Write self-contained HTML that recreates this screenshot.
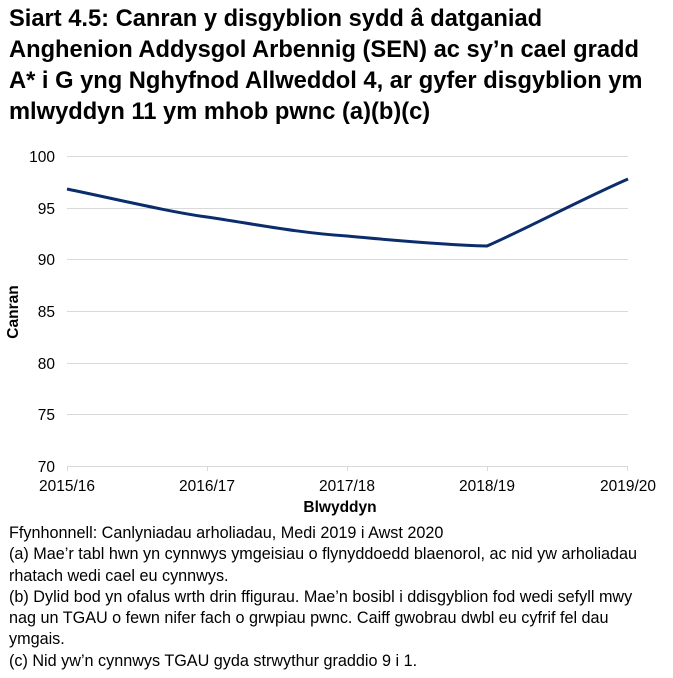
<!DOCTYPE html>
<html><head><meta charset="utf-8"><style>
body{margin:0;background:#fff;width:673px;height:678px;overflow:hidden;font-family:"Liberation Sans",Arial,sans-serif;}
.t{position:absolute;left:9px;top:4px;font-weight:bold;font-size:23.7px;line-height:31px;color:#000;white-space:nowrap;}
.f{position:absolute;left:9px;top:523px;font-size:16.2px;line-height:21.3px;color:#000;white-space:nowrap;}
</style></head><body>
<div class="t">Siart 4.5: Canran y disgyblion sydd â datganiad<br>Anghenion Addysgol Arbennig (SEN) ac sy’n cael gradd<br>A* i G yng Nghyfnod Allweddol 4, ar gyfer disgyblion ym<br>mlwyddyn 11 ym mhob pwnc (a)(b)(c)</div>
<svg width="673" height="678" style="position:absolute;left:0;top:0" font-family="Liberation Sans, Arial, sans-serif">
<g stroke="#d9d9d9" stroke-width="1">
<line x1="67" x2="628" y1="156.5" y2="156.5"/>
<line x1="67" x2="628" y1="208.5" y2="208.5"/>
<line x1="67" x2="628" y1="259.5" y2="259.5"/>
<line x1="67" x2="628" y1="311.5" y2="311.5"/>
<line x1="67" x2="628" y1="363.5" y2="363.5"/>
<line x1="67" x2="628" y1="414.5" y2="414.5"/>
<line x1="67" x2="628" y1="466.5" y2="466.5"/>
<line x1="67.5" x2="67.5" y1="466" y2="471"/>
<line x1="207.5" x2="207.5" y1="466" y2="471"/>
<line x1="347.5" x2="347.5" y1="466" y2="471"/>
<line x1="487.5" x2="487.5" y1="466" y2="471"/>
<line x1="627.5" x2="627.5" y1="466" y2="471"/>
</g>
<g font-size="15.5" text-anchor="end" fill="#000">
<text x="55" y="162">100</text><text x="55" y="214">95</text><text x="55" y="265">90</text>
<text x="55" y="317">85</text><text x="55" y="369">80</text><text x="55" y="420">75</text><text x="55" y="472">70</text>
</g>
<g font-size="15.5" text-anchor="middle" fill="#000">
<text x="67" y="491">2015/16</text><text x="207" y="491">2016/17</text><text x="347" y="491">2017/18</text><text x="487" y="491">2018/19</text><text x="628" y="491">2019/20</text>
</g>
<text x="340" y="512" font-size="15.5" font-weight="bold" text-anchor="middle">Blwyddyn</text>
<text transform="translate(18,312) rotate(-90)" font-size="15.5" font-weight="bold" text-anchor="middle">Canran</text>
<path d="M67,189 C120,200 170,212 207,217 C260,225 300,233 347,236 C400,241 450,245 487,246 C530,227 580,200 628,179" fill="none" stroke="#0b2d6b" stroke-width="3"/>
</svg>
<div class="f">Ffynhonnell: Canlyniadau arholiadau, Medi 2019 i Awst 2020<br>(a) Mae’r tabl hwn yn cynnwys ymgeisiau o flynyddoedd blaenorol, ac nid yw arholiadau<br>rhatach wedi cael eu cynnwys.<br>(b) Dylid bod yn ofalus wrth drin ffigurau. Mae’n bosibl i ddisgyblion fod wedi sefyll mwy<br>nag un TGAU o fewn nifer fach o grwpiau pwnc. Caiff gwobrau dwbl eu cyfrif fel dau<br>ymgais.<br>(c) Nid yw’n cynnwys TGAU gyda strwythur graddio 9 i 1.</div>
</body></html>
